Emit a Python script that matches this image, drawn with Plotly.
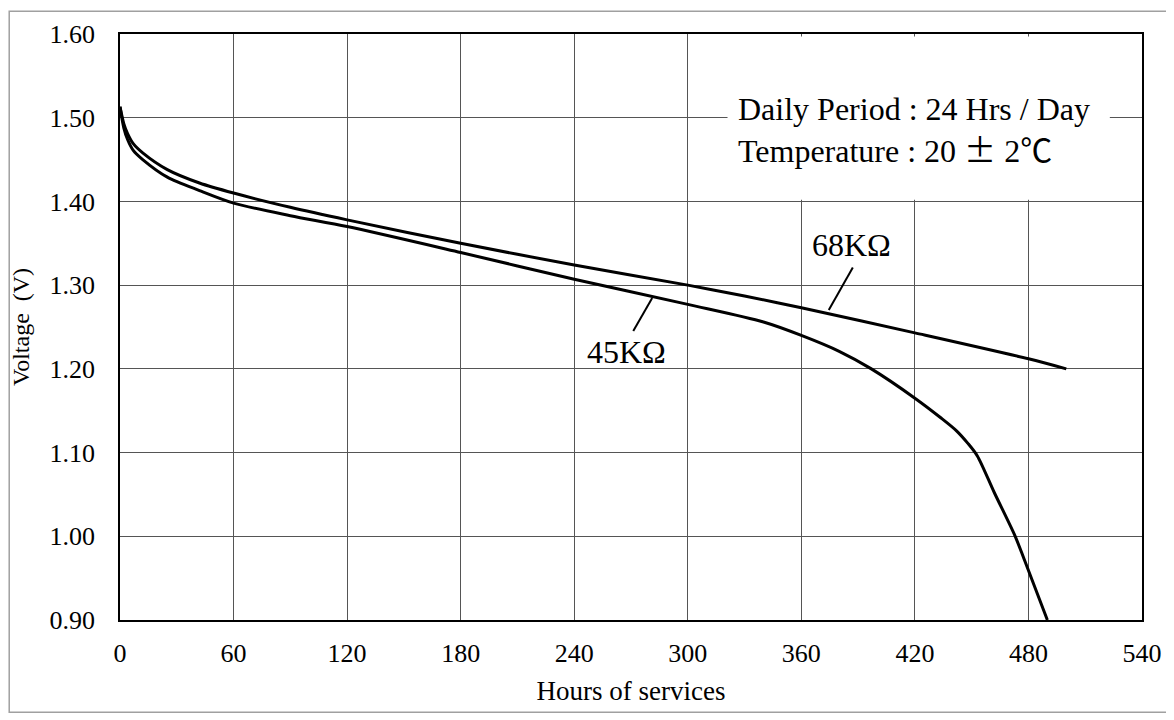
import plotly.graph_objects as go

# ---- data ----
hours_68k = [0, 2, 4, 7, 12, 25, 42, 60, 90, 120, 180, 240, 300, 330, 360, 420, 480, 500]
volts_68k = [1.513, 1.493, 1.481, 1.469, 1.458, 1.438, 1.422, 1.410, 1.393, 1.378,
             1.350, 1.324, 1.300, 1.287, 1.273, 1.243, 1.212, 1.200]

hours_45k = [0, 2, 4, 7, 12, 25, 42, 60, 90, 120, 180, 240, 300, 340, 360,
             380, 397, 420, 434, 442, 448, 453, 462, 473, 478, 490]
volts_45k = [1.513, 1.488, 1.474, 1.461, 1.450, 1.429, 1.413, 1.398, 1.383, 1.370,
             1.339, 1.307, 1.277, 1.256, 1.240, 1.221, 1.200, 1.165,
             1.141, 1.126, 1.111, 1.096, 1.052, 1.000, 0.971, 0.900]

x_ticks = [0, 60, 120, 180, 240, 300, 360, 420, 480, 540]
y_ticks = [0.90, 1.00, 1.10, 1.20, 1.30, 1.40, 1.50, 1.60]
y_tick_labels = ["0.90", "1.00", "1.10", "1.20", "1.30", "1.40", "1.50", "1.60"]

FONT = "Liberation Serif, Times New Roman, serif"
CJK = "Noto Sans CJK JP"

fig = go.Figure()
fig.add_trace(go.Scatter(x=hours_68k, y=volts_68k, mode="lines", name="68KΩ",
                         line=dict(color="black", width=3, shape="spline", smoothing=0.8)))
fig.add_trace(go.Scatter(x=hours_45k, y=volts_45k, mode="lines", name="45KΩ",
                         line=dict(color="black", width=3, shape="spline", smoothing=0.8)))

# page body has an 8px margin: the figure is sized/offset to fill the 1174x720 window
fig.update_layout(
    width=1166, height=712, autosize=False,
    margin=dict(l=112, r=30, t=22, b=100),
    paper_bgcolor="white", plot_bgcolor="white",
    showlegend=False,
    font=dict(family=FONT, color="black", size=26),
)

fig.update_xaxes(
    range=[0, 540], tickvals=x_ticks, ticktext=[str(v) for v in x_ticks],
    showgrid=True, gridcolor="#555555", gridwidth=1,
    showline=True, linecolor="black", linewidth=1.8, mirror=True,
    ticks="", ticklabelstandoff=9, zeroline=False,
    tickfont=dict(family=FONT, size=26),
    title=dict(text="Hours of services", font=dict(family=FONT, size=27), standoff=14),
)
fig.update_yaxes(
    range=[0.90, 1.60], tickvals=y_ticks, ticktext=y_tick_labels,
    showgrid=True, gridcolor="#555555", gridwidth=1,
    showline=True, linecolor="black", linewidth=1.8, mirror=True,
    ticks="", ticklabelstandoff=18, zeroline=False,
    tickfont=dict(family=FONT, size=26),
    title=dict(text="Voltage  (V)", font=dict(family=FONT, size=24), standoff=13),
)

# white box behind the condition text
fig.add_shape(type="rect", xref="x", yref="y", x0=321, x1=523, y0=1.402, y1=1.597,
              fillcolor="white", line=dict(width=0), layer="above")

fig.add_annotation(x=325.5, y=1.511, xref="x", yref="y", xanchor="left", yanchor="middle",
                   text="Daily Period : 24 Hrs / Day", showarrow=False,
                   font=dict(family=FONT, size=32))
fig.add_annotation(x=325.5, y=1.4636, xref="x", yref="y", xanchor="left", yanchor="middle",
                   text="Temperature : 20 <span style='font-family:" + CJK + "'>±</span> 2<span style='font-family:" + CJK + "'>℃</span>",
                   showarrow=False, font=dict(family=FONT, size=32))

# curve labels with leader lines
fig.add_annotation(x=386.6, y=1.3485, xref="x", yref="y", text="68KΩ", showarrow=False,
                   font=dict(family=FONT, size=32))
fig.add_shape(type="line", xref="x", yref="y", x0=387.2, y0=1.3212, x1=374.5, y1=1.2702,
              line=dict(color="black", width=2))
fig.add_annotation(x=267.5, y=1.2204, xref="x", yref="y", text="45KΩ", showarrow=False,
                   font=dict(family=FONT, size=32))
fig.add_shape(type="line", xref="x", yref="y", x0=281.2, y0=1.2845, x1=271.2, y1=1.2453,
              line=dict(color="black", width=2))

# outer gray frame of the picture
fig.add_shape(type="rect", xref="paper", yref="paper",
              x0=(1 - 112) / 1024, x1=(1162 - 112) / 1024,
              y0=(612 - 705) / 590, y1=(612 + 1) / 590,
              line=dict(color="#a0a0a0", width=1.5), fillcolor="rgba(0,0,0,0)", layer="below")

fig.write_html("out.html")
